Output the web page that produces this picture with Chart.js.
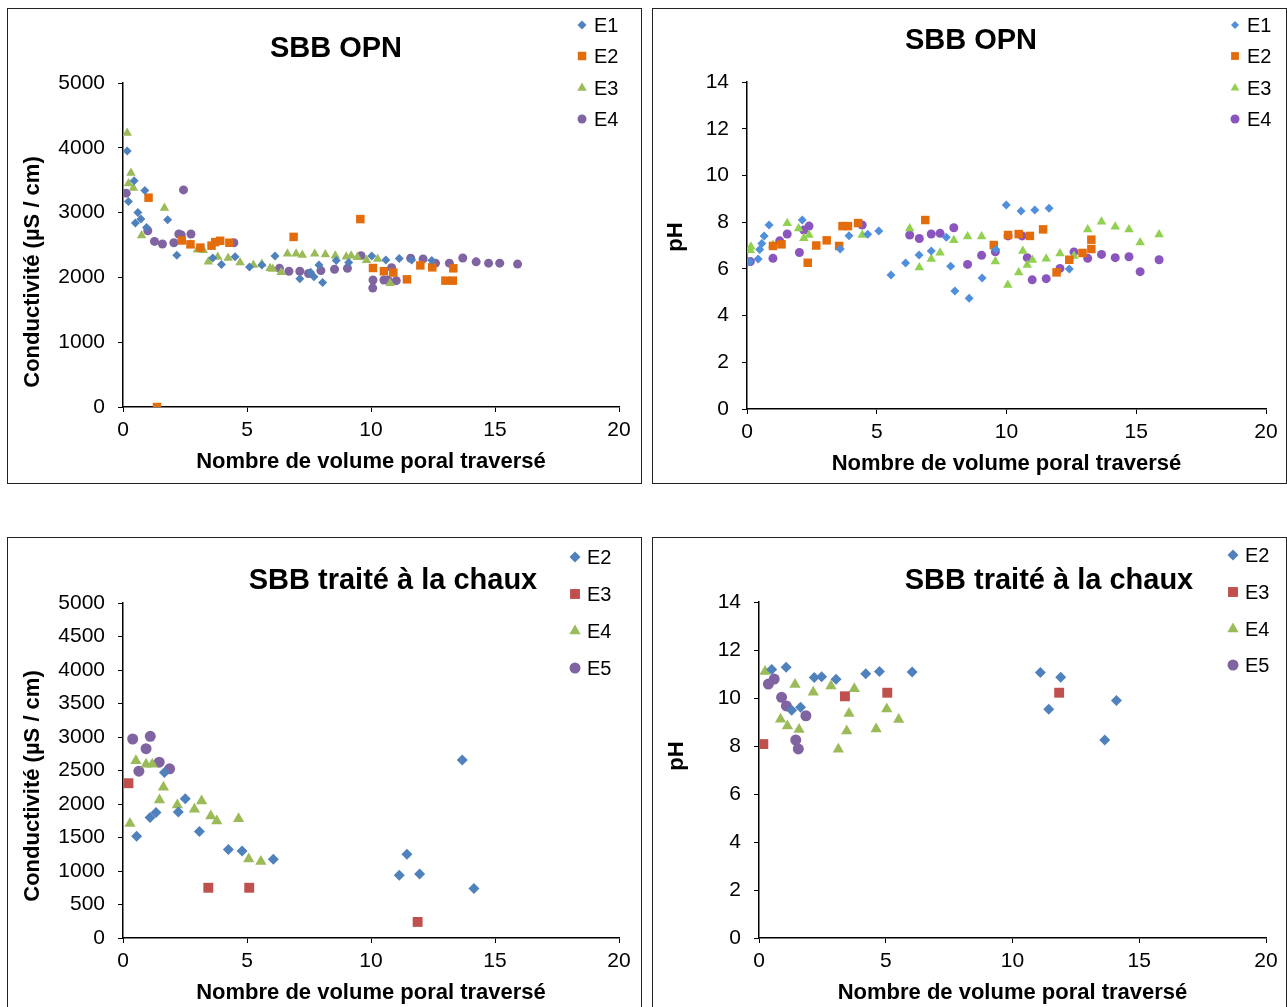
<!DOCTYPE html>
<html lang="fr">
<head>
<meta charset="utf-8">
<script src="https://cdn.jsdelivr.net/npm/chart.js@4.4.1/dist/chart.umd.min.js"></script>
<style>
  html, body { margin:0; padding:0; background:#fff; width:1287px; height:1007px; overflow:hidden; }
  .panel { position:absolute; width:633px; height:474px; border:1px solid #222; }
  .panel canvas { display:block; }
</style>
</head>
<body>
<div class="panel" style="left:7px;top:8px"><canvas id="c1" width="633" height="474"></canvas></div>
<div class="panel" style="left:652px;top:8px"><canvas id="c2" width="633" height="474"></canvas></div>
<div class="panel" style="left:7px;top:537px"><canvas id="c3" width="633" height="474"></canvas></div>
<div class="panel" style="left:652px;top:537px"><canvas id="c4" width="633" height="474"></canvas></div>

<script>
// data
const opnSeries   = ['E1', 'E2', 'E3', 'E4'];
const chauxSeries = ['E2', 'E3', 'E4', 'E5'];

const xTicks    = [0, 5, 10, 15, 20];
const condTicks = [0, 1000, 2000, 3000, 4000, 5000];
const condTicksChaux = [0, 500, 1000, 1500, 2000, 2500, 3000, 3500, 4000, 4500, 5000];
const phTicks   = [0, 2, 4, 6, 8, 10, 12, 14];

// SBB OPN — conductivité
const opnCondE1 = [[0.17,3950],[0.22,3170],[0.45,3490],[0.5,2840],[0.6,3000],[0.72,2900],[0.88,3340],[0.95,2770],[1.8,2890],[2.17,2340],[3.62,2300],[3.97,2200],[4.52,2320],[5.1,2160],[5.6,2190],[6.13,2330],[7.13,1980],[7.56,2080],[7.7,2010],[7.9,2190],[8.05,1920],[8.6,2260],[9.1,2230],[10.03,2330],[10.6,2270],[11.14,2290],[11.64,2270],[12.45,2260]];
const opnCondE2 = [[1.03,3230],[1.37,0],[2.37,2570],[2.72,2510],[3.12,2460],[3.57,2490],[3.72,2545],[3.92,2565],[4.29,2535],[6.88,2625],[9.57,2900],[10.08,2145],[10.52,2095],[10.9,2075],[11.45,1970],[11.99,2185],[12.47,2155],[13.0,1950],[13.3,1950],[13.32,2140]];
const opnCondE3 = [[0.17,4230],[0.22,3450],[0.32,3610],[0.42,3380],[0.75,2645],[1.67,3070],[2.72,2505],[3.0,2425],[3.24,2420],[3.44,2240],[3.82,2315],[4.24,2300],[4.72,2230],[5.26,2190],[5.6,2205],[5.93,2140],[6.04,2130],[6.38,2080],[6.63,2365],[6.98,2365],[7.23,2345],[7.73,2365],[8.16,2355],[8.56,2335],[9.0,2320],[9.2,2335],[9.45,2310],[9.82,2265],[10.27,2285],[10.77,1910]];
const opnCondE4 = [[0.13,3300],[1.0,2720],[1.27,2555],[1.59,2515],[2.05,2535],[2.25,2670],[2.35,2655],[2.44,3350],[2.74,2670],[4.47,2535],[6.31,2140],[6.69,2095],[7.13,2095],[7.48,2060],[7.98,2105],[8.53,2125],[9.05,2140],[9.6,2335],[10.08,1960],[10.07,1835],[10.52,1960],[10.68,1960],[10.83,2150],[11.02,1950],[11.6,2295],[12.1,2285],[12.6,2220],[13.16,2220],[13.7,2300],[14.24,2240],[14.74,2220],[15.19,2220],[15.91,2205]];

// SBB OPN — pH
const opnPhE1 = [[0.1,6.3],[0.43,6.42],[0.49,6.83],[0.57,7.09],[0.66,7.41],[0.85,7.88],[2.13,8.09],[3.59,6.85],[3.93,7.42],[4.65,7.48],[5.08,7.62],[5.55,5.74],[6.11,6.25],[6.63,6.59],[7.1,6.76],[7.68,7.35],[7.85,6.11],[8.01,5.05],[8.56,4.74],[9.06,5.61],[9.59,6.83],[9.99,8.73],[10.56,8.48],[11.09,8.52],[11.64,8.6],[12.42,5.99]];
const opnPhE2 = [[1.0,6.98],[1.33,7.05],[2.34,6.26],[2.67,7.0],[3.07,7.22],[3.55,6.98],[3.68,7.83],[3.89,7.83],[4.28,7.96],[6.87,8.09],[9.51,7.02],[10.06,7.45],[10.47,7.49],[10.9,7.41],[11.41,7.69],[11.93,5.85],[12.42,6.39],[12.93,6.68],[13.27,7.25],[13.27,6.85]];
const opnPhE3 = [[0.13,6.8],[0.15,6.95],[1.0,7.02],[1.55,7.95],[1.99,7.73],[2.19,7.31],[2.39,7.45],[4.44,7.45],[6.27,7.73],[6.64,6.06],[7.1,6.42],[7.44,6.69],[7.97,7.23],[8.5,7.38],[9.04,7.38],[9.57,6.31],[10.05,5.31],[10.47,5.84],[10.63,6.76],[10.8,6.16],[11.0,6.38],[11.53,6.43],[12.06,6.66],[12.6,6.55],[13.13,7.69],[13.66,8.02],[14.19,7.8],[14.72,7.69],[15.15,7.13],[15.88,7.47]];
const opnPhE4 = [[0.13,6.31],[1.0,6.45],[1.26,7.2],[1.55,7.49],[2.02,6.7],[2.19,7.66],[2.39,7.83],[4.44,7.88],[6.27,7.45],[6.64,7.3],[7.1,7.49],[7.44,7.52],[7.97,7.76],[8.5,6.19],[9.04,6.58],[9.57,6.73],[10.06,7.41],[10.6,7.41],[10.8,6.48],[10.99,5.53],[11.53,5.58],[12.06,6.02],[12.6,6.72],[13.13,6.45],[13.66,6.62],[14.19,6.48],[14.72,6.52],[15.15,5.88],[15.88,6.39]];

// SBB traité à la chaux — conductivité
const chauxCondE2 = [[0.55,1520],[1.09,1800],[1.33,1875],[1.67,2470],[2.23,1880],[2.51,2080],[3.08,1590],[4.25,1320],[4.8,1300],[6.06,1175],[11.14,935],[11.45,1250],[11.96,955],[13.68,2655],[14.15,740]];
const chauxCondE3 = [[0.22,2310],[3.44,750],[5.09,750],[11.88,240]];
const chauxCondE4 = [[0.28,1710],[0.52,2645],[0.93,2595],[1.18,2595],[1.47,2060],[1.63,2250],[2.19,1985],[2.88,1920],[3.17,2045],[3.54,1820],[3.78,1745],[4.66,1780],[5.07,1180],[5.56,1140]];
const chauxCondE5 = [[0.39,2970],[0.64,2490],[0.93,2825],[1.1,3010],[1.46,2625],[1.88,2525]];

// SBB traité à la chaux — pH
const chauxPhE2 = [[0.5,11.19],[1.07,11.28],[1.29,9.49],[1.64,9.61],[2.18,10.85],[2.47,10.89],[3.04,10.78],[4.21,11.01],[4.75,11.1],[6.04,11.08],[11.1,11.06],[11.43,9.53],[11.9,10.86],[13.64,8.25],[14.1,9.9]];
const chauxPhE3 = [[0.17,8.08],[3.39,10.07],[5.06,10.22],[11.84,10.22]];
const chauxPhE4 = [[0.24,11.1],[0.85,9.11],[1.12,8.83],[1.42,10.56],[1.58,8.69],[2.14,10.24],[2.84,10.5],[3.13,7.86],[3.46,8.63],[3.55,9.35],[3.76,10.39],[4.62,8.71],[5.04,9.54],[5.51,9.1]];
const chauxPhE5 = [[0.37,10.58],[0.6,10.79],[0.89,10.03],[1.08,9.67],[1.45,8.25],[1.55,7.88],[1.85,9.26]];

const xTitle = 'Nombre de volume poral traversé';
const styles = ['rectRot', 'rect', 'triangle', 'circle'];

Chart.defaults.font.family = "'Liberation Sans', Arial, sans-serif";
Chart.defaults.color = '#000';

function marker(ctx, style, r, x, y, color) {
  ctx.save();
  ctx.fillStyle = color;
  if (Chart.helpers && Chart.helpers.drawPoint) {
    Chart.helpers.drawPoint(ctx, { pointStyle: style, radius: r, rotation: 0, borderWidth: 0 }, x, y);
  }
  ctx.restore();
}

// titles, rotated y label and legend drawn by hand, placed like the Excel layout
const panelText = {
  id: 'panelText',
  afterDraw(chart, args, o) {
    const ctx = chart.ctx;
    ctx.save();
    ctx.fillStyle = '#000';
    ctx.textAlign = 'center';
    ctx.textBaseline = 'middle';
    ctx.font = "bold 29px 'Liberation Sans', Arial, sans-serif";
    ctx.fillText(o.title, o.titleX, o.titleY);

    ctx.save();
    ctx.translate(o.yTitleX, o.yTitleY);
    ctx.rotate(-Math.PI / 2);
    ctx.font = "bold 22px 'Liberation Sans', Arial, sans-serif";
    ctx.fillText(o.yTitle, 0, 0);
    ctx.restore();

    ctx.textAlign = 'left';
    ctx.font = "20px 'Liberation Sans', Arial, sans-serif";
    chart.data.datasets.forEach((ds, i) => {
      const y = o.legendY[i];
      marker(ctx, ds.pointStyle, o.legendR[i], o.legendX, y, ds.backgroundColor);
      ctx.fillStyle = '#000';
      ctx.fillText(ds.label, o.legendX + 12, y + 1);
    });
    ctx.restore();
  }
};

function scatterPanel(id, p) {
  const datasets = p.series.map((name, i) => ({
    label: name,
    data: p.data[i].map(d => ({ x: d[0], y: d[1] })),
    pointStyle: styles[i],
    pointRadius: p.radius[i],
    pointHoverRadius: p.radius[i],
    pointBorderWidth: 0,
    backgroundColor: p.colors[i],
    borderColor: p.colors[i]
  }));
  const axis = {
    grid: { drawOnChartArea: false, drawTicks: true, tickLength: 5, color: '#000' },
    border: { color: '#000', width: 1.5 }
  };
  return new Chart(document.getElementById(id), {
    type: 'scatter',
    data: { datasets },
    options: {
      responsive: false,
      animation: false,
      events: [],
      layout: { padding: { left: 0, top: p.area.top, right: 633 - p.area.right, bottom: 0 } },
      plugins: {
        legend: { display: false },
        tooltip: { enabled: false },
        panelText: p.text
      },
      scales: {
        x: {
          ...axis,
          type: 'linear',
          min: xTicks[0], max: xTicks[xTicks.length - 1],
          ticks: { stepSize: xTicks[1] - xTicks[0], font: { size: 21 }, padding: 6, maxRotation: 0, callback: v => String(v) },
          title: { display: true, text: xTitle, font: { size: 22, weight: 'bold' }, padding: { top: 0, bottom: p.xTitlePad } },
          afterFit: s => { s.height = 474 - p.area.bottom; }
        },
        y: {
          ...axis,
          min: p.yTicks[0], max: p.yTicks[p.yTicks.length - 1],
          ticks: { stepSize: p.yTicks[1] - p.yTicks[0], font: { size: 21 }, padding: 13, callback: v => String(v) },
          afterFit: s => { s.width = p.area.left; }
        }
      }
    },
    plugins: [panelText]
  });
}

const opnColorsA = ['#4F81BD', '#E46C0A', '#9BBB59', '#8064A2'];
const opnColorsB = ['#4F8FDB', '#E46C0A', '#92D050', '#8A55BE'];
const chauxColors = ['#4F81BD', '#C0504D', '#9BBB59', '#8064A2'];

scatterPanel('c1', {
  series: opnSeries, data: [opnCondE1, opnCondE2, opnCondE3, opnCondE4],
  colors: opnColorsA, radius: [4.5, 6, 5.5, 4.5], yTicks: condTicks,
  area: { left: 115, right: 611, top: 74, bottom: 398 }, xTitlePad: 8,
  text: { title: 'SBB OPN', titleX: 328, titleY: 40, yTitle: 'Conductivité (µS / cm)', yTitleX: 25, yTitleY: 263,
          legendX: 574, legendY: [16, 47, 79, 110], legendR: [4.5, 6, 5.5, 4.5] }
});

scatterPanel('c2', {
  series: opnSeries, data: [opnPhE1, opnPhE2, opnPhE3, opnPhE4],
  colors: opnColorsB, radius: [4.5, 6, 5.5, 4.5], yTicks: phTicks,
  area: { left: 94, right: 613, top: 73, bottom: 400 }, xTitlePad: 6,
  text: { title: 'SBB OPN', titleX: 318, titleY: 32, yTitle: 'pH', yTitleX: 23, yTitleY: 228,
          legendX: 582, legendY: [16, 47, 79, 110], legendR: [4, 5.5, 5, 4.5] }
});

scatterPanel('c3', {
  series: chauxSeries, data: [chauxCondE2, chauxCondE3, chauxCondE4, chauxCondE5],
  colors: chauxColors, radius: [5.5, 7, 6.5, 5.5], yTicks: condTicksChaux,
  area: { left: 115, right: 611, top: 65, bottom: 400 }, xTitlePad: 6,
  text: { title: 'SBB traité à la chaux', titleX: 385, titleY: 43, yTitle: 'Conductivité (µS / cm)', yTitleX: 25, yTitleY: 248,
          legendX: 567, legendY: [19, 56, 93, 130], legendR: [5.5, 7, 6.5, 5.5] }
});

scatterPanel('c4', {
  series: chauxSeries, data: [chauxPhE2, chauxPhE3, chauxPhE4, chauxPhE5],
  colors: chauxColors, radius: [5.5, 7, 6.5, 5.5], yTicks: phTicks,
  area: { left: 106, right: 613, top: 64, bottom: 400 }, xTitlePad: 6,
  text: { title: 'SBB traité à la chaux', titleX: 396, titleY: 43, yTitle: 'pH', yTitleX: 24, yTitleY: 218,
          legendX: 580, legendY: [17, 54, 91, 127], legendR: [5.5, 7, 6.5, 5.5] }
});
</script>
</body>
</html>
